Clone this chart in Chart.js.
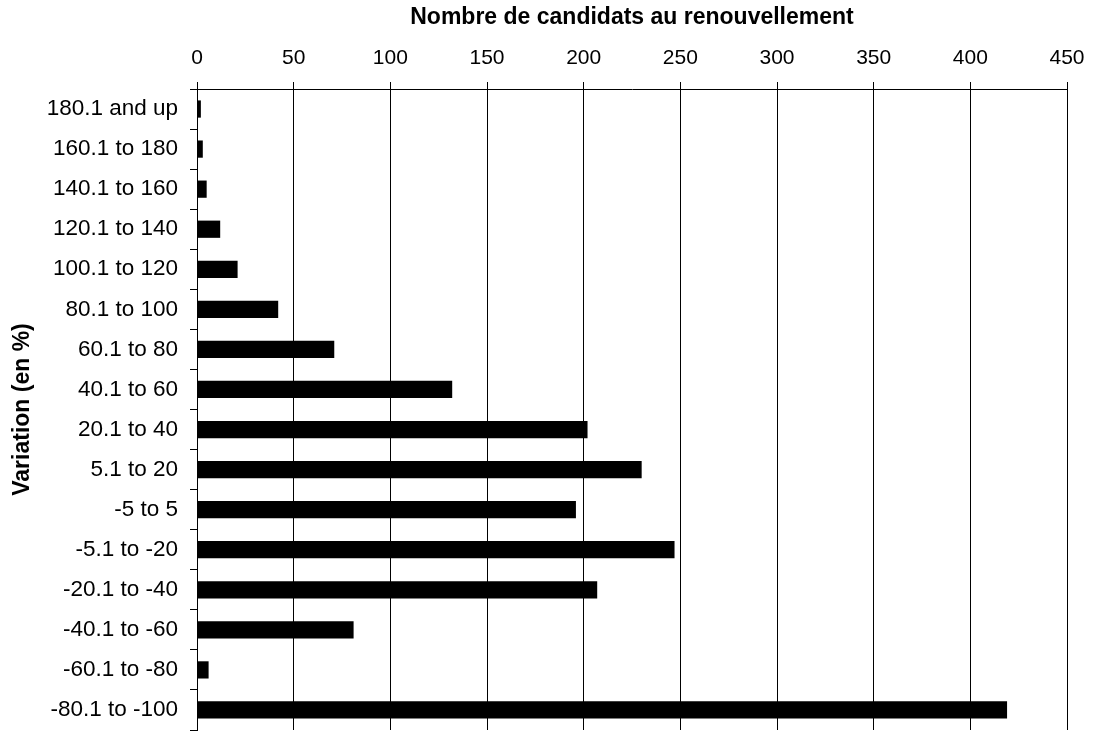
<!DOCTYPE html>
<html>
<head>
<meta charset="utf-8">
<script src="https://cdn.jsdelivr.net/npm/chart.js@4.4.1/dist/chart.umd.min.js"></script>
<style>
  html, body { margin: 0; padding: 0; background: #fff; }
  #wrap { width: 1093px; height: 732px; }
</style>
</head>
<body>
<div id="wrap"><canvas id="chart" width="1093" height="732"></canvas></div>
<script>
// Catégories de variation (de haut en bas)
const categories = [
    '180.1 and up', '160.1 to 180', '140.1 to 160', '120.1 to 140',
    '100.1 to 120', '80.1 to 100', '60.1 to 80', '40.1 to 60',
    '20.1 to 40', '5.1 to 20', '-5 to 5', '-5.1 to -20',
    '-20.1 to -40', '-40.1 to -60', '-60.1 to -80', '-80.1 to -100'
];
// Nombre de candidats par catégorie
const candidats = [2, 3, 5, 12, 21, 42, 71, 132, 202, 230, 196, 247, 207, 81, 6, 419];

const xTitle = 'Nombre de candidats au renouvellement';
const yTitle = 'Variation (en %)';
const xMin = 0, xMax = 450, xStep = 50;

document.addEventListener('DOMContentLoaded', function() {
    Chart.defaults.font.family = '"Liberation Sans", Arial, sans-serif';
    Chart.defaults.color = '#000';

    const ctx = document.getElementById('chart').getContext('2d');
    new Chart(ctx, {
        type: 'bar',
        data: {
            labels: categories,
            datasets: [{
                label: xTitle,
                data: candidats,
                backgroundColor: '#000',
                borderWidth: 0,
                barPercentage: 0.43,
                categoryPercentage: 1
            }]
        },
        options: {
            indexAxis: 'y',
            responsive: false,
            animation: false,
            layout: { padding: { top: 0, right: 26, bottom: 2, left: 0 } },
            plugins: {
                legend: { display: false },
                tooltip: { enabled: false }
            },
            scales: {
                x: {
                    position: 'top',
                    min: xMin,
                    max: xMax,
                    // hauteur fixe pour caler l'axe à y=89
                    afterFit: (s) => { s.height = 89; s.paddingLeft = 0; s.paddingRight = 0; },
                    ticks: { stepSize: xStep, font: { size: 21 }, color: '#000', padding: 11 },
                    grid: { color: '#000', lineWidth: 1, tickLength: 7 },
                    border: { color: '#000', width: 1 },
                    title: {
                        display: true,
                        text: xTitle,
                        color: '#000',
                        font: { size: 23, weight: 'bold' },
                        padding: { top: 4, bottom: 0 }
                    }
                },
                y: {
                    afterFit: (s) => { s.width = 197; s.paddingTop = 0; s.paddingBottom = 0; },
                    ticks: { font: { size: 22.5 }, color: '#000', padding: 12 },
                    grid: { drawOnChartArea: false, color: '#000', tickLength: 7 },
                    border: { color: '#000', width: 1 },
                    title: {
                        display: true,
                        text: yTitle,
                        color: '#000',
                        font: { size: 23, weight: 'bold' },
                        padding: { top: 9, bottom: 0 }
                    }
                }
            }
        }
    });
});
</script>
</body>
</html>
